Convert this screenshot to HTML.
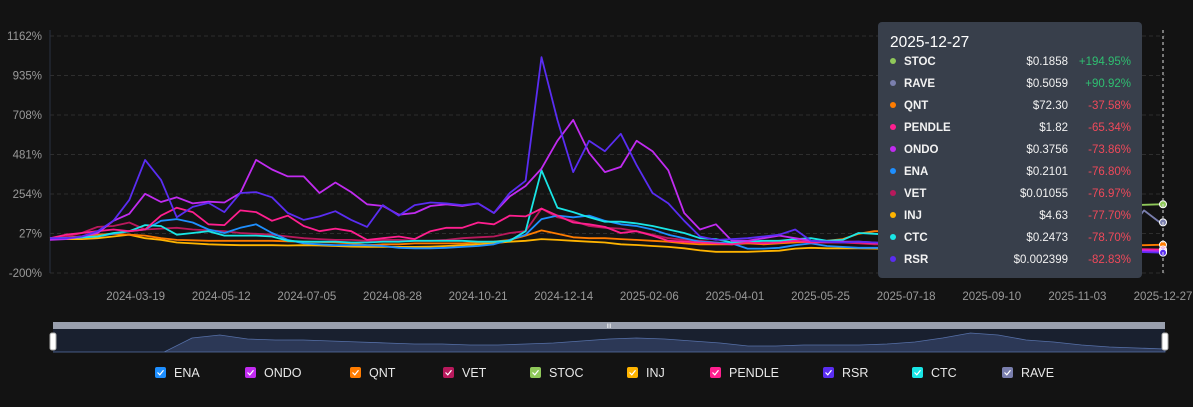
<!DOCTYPE html>
<html><head><meta charset="utf-8">
<style>
html,body{margin:0;padding:0;background:#131313;}
svg{display:block;font-family:"Liberation Sans",Arial,sans-serif;}
</style></head>
<body>
<svg id="chart" width="1193" height="407" viewBox="0 0 1193 407">
<rect x="0" y="0" width="1193" height="407" fill="#131313"/>
<g id="grid"></g>
<g id="series"></g>
<g id="nav"></g>
<g id="legend"></g>
<g id="tip"></g>
</svg>
<script>
const yTicks = [1162, 935, 708, 481, 254, 27, -200];
const xTickLabels = ["2024-03-19","2024-05-12","2024-07-05","2024-08-28","2024-10-21","2024-12-14","2025-02-06","2025-04-01","2025-05-25","2025-07-18","2025-09-10","2025-11-03","2025-12-27"];
const xTickDays = [54,108,162,216,270,324,378,432,486,540,594,648,702];
const seriesNames = ["ENA","ONDO","QNT","VET","STOC","INJ","PENDLE","RSR","CTC","RAVE"];
const seriesColors = ["#1e8fff","#c12bf0","#ff7c00","#b8195c","#8fc85a","#ffb400","#ff1f8f","#5a2df2","#19e6e6","#7a7fae"];
const stepDays = 10;
const ENA = [0,0,5,10,25,40,50,100,110,90,50,30,60,80,30,-10,-30,-35,-40,-40,-40,-45,-55,-58,-58,-55,-50,-45,-35,-10,20,110,130,120,130,100,80,70,50,20,0,-20,-25,-30,-60,-60,-55,-40,-30,-45,-50,-55,-55,-55,-60,-60,-60,-62,-64,-65,-66,-67,-68,-70,-70,-72,-73,-74,-75,-76,-77];
const ONDO = [-10,-5,10,30,100,140,255,208,235,200,210,205,260,450,395,355,355,260,320,265,195,185,135,145,185,195,185,200,145,240,300,400,560,680,490,380,410,560,500,390,145,50,80,-15,-15,0,15,0,-15,-20,-20,-20,-25,-30,-35,-40,-40,-45,-45,-50,-50,-55,-55,-60,-60,-65,-65,-68,-70,-72,-74];
const QNT = [0,5,10,20,25,20,15,0,-10,-12,-15,-15,-15,-15,-15,-18,-20,-22,-25,-30,-40,-35,-35,-30,-30,-30,-30,-25,-20,-10,15,45,25,5,0,0,-5,-10,-15,-20,-30,-35,-35,-35,-30,-35,-30,-25,-20,-15,-5,25,40,40,35,30,25,20,15,10,5,0,-5,-10,-15,-20,-25,-30,-40,-40,-38];
const VET = [0,10,30,65,70,90,50,55,60,50,45,40,30,25,20,10,0,-5,-10,-10,-15,-10,-10,-15,-15,-10,0,5,10,30,40,170,120,100,70,60,55,40,20,0,-10,-15,-25,-35,-20,-20,-15,-15,-20,-20,-25,-30,-35,-35,-40,-40,-45,-50,-50,-55,-55,-60,-60,-65,-65,-70,-70,-72,-74,-76,-77];
const STOC = [null,null,null,null,null,null,null,null,null,null,null,null,null,null,null,null,null,null,null,null,null,null,null,null,null,null,null,null,null,null,null,null,null,null,null,null,null,null,null,null,null,null,null,null,null,null,null,null,null,null,null,null,null,null,null,null,null,null,null,null,120,130,140,150,160,170,180,185,190,192,195];
const INJ = [0,-5,-5,0,10,20,0,-10,-25,-30,-35,-38,-40,-40,-40,-42,-40,-42,-45,-48,-50,-50,-50,-50,-48,-45,-40,-35,-29,-20,-15,-5,-10,-15,-20,-25,-35,-39,-45,-50,-58,-70,-78,-78,-78,-75,-72,-60,-55,-58,-58,-58,-60,-62,-64,-65,-66,-67,-68,-70,-70,-71,-72,-73,-74,-75,-75,-76,-76,-77,-78];
const PENDLE = [0,20,30,40,50,40,50,130,175,150,80,75,160,150,100,130,70,40,55,40,-10,0,10,-5,40,60,60,90,80,130,125,170,130,90,80,65,30,40,15,-15,-20,-25,-30,-35,-25,-30,-25,-15,-25,-25,-25,-25,-30,-30,-35,-35,-40,-40,-45,-45,-50,-50,-55,-55,-55,-60,-60,-62,-63,-64,-65];
const RSR = [0,0,10,40,100,220,450,335,120,180,203,150,260,265,235,145,105,125,155,105,65,190,130,190,205,200,190,200,145,260,330,1040,680,380,560,500,600,420,260,200,100,10,-10,-5,0,10,20,50,-15,-20,-25,-20,-25,-30,-30,-35,-35,-40,-40,-45,-45,-50,-55,-55,-60,-65,-70,-75,-78,-80,-83];
const CTC = [0,0,5,10,30,40,75,70,20,30,40,15,15,15,10,-15,-20,-20,-20,-25,-25,-20,-20,-15,-15,-15,-15,-20,-20,-15,40,390,175,150,120,95,95,85,70,50,30,0,-5,-25,-20,-15,-15,-5,0,-15,-10,30,25,20,15,10,5,0,-5,-10,-15,-20,-25,-30,-35,-40,-45,-50,-60,-70,-79];
const RAVE = [null,null,null,null,null,null,null,null,null,null,null,null,null,null,null,null,null,null,null,null,null,null,null,null,null,null,null,null,null,null,null,null,null,null,null,null,null,null,null,null,null,null,null,null,null,null,null,null,null,null,null,null,null,null,null,null,null,null,null,null,null,null,null,null,30,20,40,60,35,160,91];
const navValues = [0,0,0,0,0,14,17,13,12,12,11,10,9,8,8,7,7,8,9,11,13,14,13,11,9,6,6,7,7,7,8,10,14,19,17,12,10,7,5,4,3];
const tipDate = "2025-12-27";
const tipNames = ["STOC","RAVE","QNT","PENDLE","ONDO","ENA","VET","INJ","CTC","RSR"];
const tipPrices = ["$0.1858","$0.5059","$72.30","$1.82","$0.3756","$0.2101","$0.01055","$4.63","$0.2473","$0.002399"];
const tipPcts = ["+194.95%","+90.92%","-37.58%","-65.34%","-73.86%","-76.80%","-76.97%","-77.70%","-78.70%","-82.83%"];
const tipColors = ["#8fc85a","#7a7fae","#ff7c00","#ff1f8f","#c12bf0","#1e8fff","#b8195c","#ffb400","#19e6e6","#5a2df2"];

const seriesData = {ENA,ONDO,QNT,VET,STOC,INJ,PENDLE,RSR,CTC,RAVE};
const NS="http://www.w3.org/2000/svg";
const X0=50,X1=1163,Y0=36,Y1=273,DMAX=702,VMIN=-200,VMAX=1162;
const xs=d=>X0+d/DMAX*(X1-X0);
const ys=v=>Y1-(v-VMIN)/(VMAX-VMIN)*(Y1-Y0);
function mk(tag,attrs,parent){const e=document.createElementNS(NS,tag);for(const k in attrs)e.setAttribute(k,attrs[k]);parent.appendChild(e);return e;}
const grid=document.getElementById('grid');
yTicks.forEach(t=>{
  const l=mk('line',{x1:X0,x2:1165,y1:ys(t),y2:ys(t),stroke:'#2e2e2e','stroke-dasharray':'4,3'},grid);
  
  
  const tx=mk('text',{x:42,y:ys(t)+4,'text-anchor':'end','font-size':11.5,fill:'#9a9a9a'},grid);
  tx.textContent=t+'%';
  
  
});
const ax=mk('line',{x1:X0,x2:X0,y1:30,y2:Y1,stroke:'#2a3040'},grid);


xTickLabels.forEach((s,i)=>{
  const tx=mk('text',{x:xs(xTickDays[i]),y:300,'text-anchor':'middle','font-size':11.5,fill:'#9a9a9a'},grid);
  tx.textContent=s;
  
  
});
const sg=document.getElementById('series');
const order=["RAVE","STOC","INJ","QNT","VET","ENA","CTC","PENDLE","ONDO","RSR"];
order.forEach(n=>{
  const vals=seriesData[n];const col=seriesColors[seriesNames.indexOf(n)];
  let d='';let pen=false;
  vals.forEach((v,i)=>{if(v===null){pen=false;return;}d+=(pen?'L':'M')+xs(Math.min(i*stepDays,DMAX)).toFixed(1)+','+ys(v).toFixed(1);pen=true;});
  const p=mk('path',{d:d,fill:'none',stroke:col,'stroke-width':1.8,'stroke-linejoin':'round'},sg);
  
  
  const last=vals[vals.length-1];
  const c=mk('circle',{cx:xs(DMAX),cy:ys(last),r:3.5,fill:col,stroke:'#fff','stroke-width':1},sg);
  
  
});
const vl=mk('line',{x1:X1,x2:X1,y1:30,y2:Y1,stroke:'#ddd','stroke-dasharray':'3,3'},sg);


// navigator
const nav=document.getElementById('nav');
const nb=mk('rect',{x:53,y:322,width:1112,height:7,fill:'#9aa0ae'},nav);


const nbody=mk('rect',{x:53,y:329,width:1112,height:23,fill:'#19202f'},nav);


let nd='M53,352';
navValues.forEach((v,i)=>{nd+='L'+(53+i*1112/(navValues.length-1)).toFixed(1)+','+(352-v).toFixed(1);});
nd+='L1165,352Z';
const na=mk('path',{d:nd,fill:'#2c3856',stroke:'#5670a8','stroke-width':0.8},nav);


[53,1165].forEach((x,i)=>{
  const h=mk('rect',{x:x-3,y:333,width:6,height:17,rx:2,fill:'#fff',stroke:'#aaa'},nav);
  
  
});
const grip=mk('text',{x:609,y:328,'text-anchor':'middle','font-size':6,fill:'#fff'},nav);
grip.textContent='III';


// legend
const lg=document.getElementById('legend');
const lx=[155,245,350,443,530,627,710,823,912,1002];
seriesNames.forEach((n,i)=>{
  const g=mk('g',{},lg);
  
  
  mk('rect',{x:lx[i],y:367,width:11,height:11,rx:2,fill:seriesColors[i]},g);
  const ck=mk('path',{d:`M${lx[i]+2.5},${372.5}l2.3,2.3l3.7,-4.5`,fill:'none',stroke:'#fff','stroke-width':1.2},g);
  const t=mk('text',{x:lx[i]+19,y:377,'font-size':12.5,fill:'#e8e8e8'},g);
  t.textContent=n;
});
// tooltip
const tip=document.getElementById('tip');
const tb=mk('rect',{x:878,y:22,width:264,height:256,rx:4,fill:'#383f4b'},tip);


const tt=mk('text',{x:890,y:47,'font-size':15.5,fill:'#fff'},tip);
tt.textContent=tipDate;


tipNames.forEach((n,i)=>{
  const y=65+i*22;
  const g=mk('g',{},tip);
  
  
  mk('circle',{cx:893,cy:y-4,r:3,fill:tipColors[i]},g);
  const a=mk('text',{x:904,y:y,'font-size':11.5,'font-weight':'bold',fill:'#f2f2f2'},g);a.textContent=n;
  const b=mk('text',{x:1068,y:y,'text-anchor':'end','font-size':11.5,fill:'#f2f2f2'},g);b.textContent=tipPrices[i];
  const c=mk('text',{x:1131,y:y,'text-anchor':'end','font-size':11.5,fill:tipPcts[i][0]==='+'?'#2fbf71':'#f0495a'},g);c.textContent=tipPcts[i];
});
</script>
</body></html>
